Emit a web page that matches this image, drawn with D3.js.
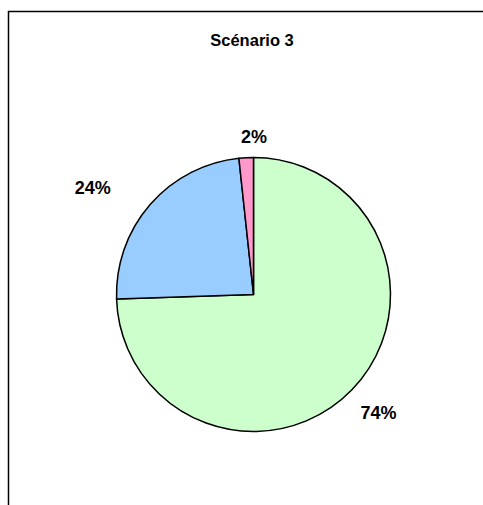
<!DOCTYPE html>
<html>
<head>
<meta charset="utf-8">
<script src="https://cdn.jsdelivr.net/npm/d3@7"></script>
<style>
  body { margin: 0; background: #fff; }
  text { font-family: "Liberation Sans", Arial, sans-serif; font-weight: bold; }
</style>
</head>
<body>
<div id="container"></div>
<script>
const title = 'Scénario 3';
const categories = ['A', 'B', 'C'];
const values = [74.49, 23.81, 1.7];
const colors = ['#ccffcc', '#99ccff', '#ff99cc'];

const width = 483;
const height = 505;
const cx = 253.5;
const cy = 294.5;
const radius = 137;
// small per-label nudges so labels sit where the original put them
const labelNudge = [[10, 7], [-40, -2], [9, 2]];

const svg = d3.select('#container').append('svg')
  .attr('width', width)
  .attr('height', height);

svg.append('rect').attr('width', width).attr('height', height).attr('fill', '#fff');

// chart frame (cut off at right and bottom)
svg.append('path')
  .attr('d', `M8.5,${height} L8.5,11.5 L${width},11.5`)
  .attr('fill', 'none')
  .attr('stroke', '#000')
  .attr('stroke-width', 1.5);

svg.append('text')
  .attr('x', 252)
  .attr('y', 46)
  .attr('text-anchor', 'middle')
  .style('font-size', '16.5px')
  .text(title);

const data = categories.map((c, i) => ({ cat: c, value: values[i], color: colors[i] }));
const pie = d3.pie().sort(null).value((d) => d.value);
const arcs = pie(data);
const arc = d3.arc().innerRadius(0).outerRadius(radius);

const g = svg.append('g').attr('transform', `translate(${cx}, ${cy})`);

g.selectAll('path')
  .data(arcs).enter()
  .append('path')
  .attr('d', arc)
  .attr('fill', (d) => d.data.color)
  .attr('stroke', '#000')
  .attr('stroke-width', 1.5)
  .attr('stroke-linejoin', 'round');

const total = d3.sum(values);
const labelArc = d3.arc().innerRadius(160).outerRadius(160);

g.selectAll('text.lbl')
  .data(arcs).enter()
  .append('text')
  .attr('class', 'lbl')
  .attr('transform', (d, i) => {
    const [x, y] = labelArc.centroid(d);
    return `translate(${x + labelNudge[i][0]}, ${y + labelNudge[i][1]})`;
  })
  .attr('text-anchor', 'middle')
  .attr('dy', '0.35em')
  .style('font-size', '18px')
  .text((d) => Math.round(d.data.value / total * 100) + '%');
</script>
</body>
</html>
